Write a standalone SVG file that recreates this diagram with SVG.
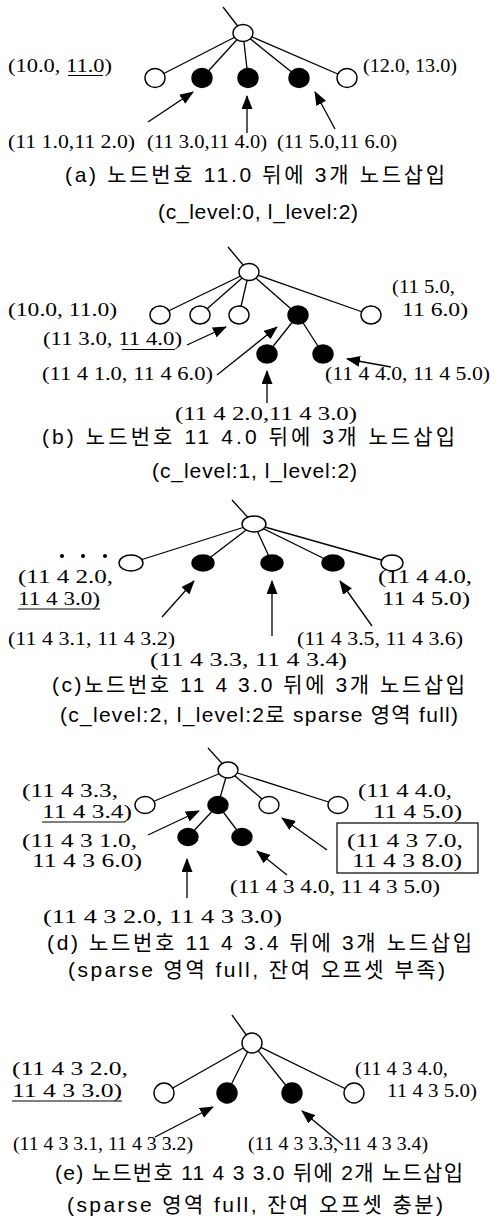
<svg xmlns="http://www.w3.org/2000/svg" width="501" height="1223" viewBox="0 0 501 1223">
  <defs>
    <marker id="head" markerUnits="userSpaceOnUse" markerWidth="14" markerHeight="11" refX="13" refY="5.5" orient="auto" viewBox="0 0 14 11">
      <path d="M0,0 L14,5.5 L0,11 z" fill="#000"/>
    </marker>
    <style>
      .edge { stroke: #000; stroke-width: 1.3; fill: none; }
      .arrow { stroke: #000; stroke-width: 1.3; fill: none; marker-end: url(#head); }
      .open { fill: #fff; stroke: #000; stroke-width: 1.4; }
      .full { fill: #000; stroke: #000; stroke-width: 1.4; }
      .ul { stroke: #000; stroke-width: 1; }
      .box { fill: none; stroke: #000; stroke-width: 1.2; }
      .lbl { font-family: "Liberation Serif", "Times New Roman", serif; font-size: 18.5px; fill: #000; }
      .cap { font-family: "Liberation Sans", "Noto Sans CJK KR", sans-serif; font-size: 21px; fill: #000; }
    </style>
  </defs>
  <rect width="501" height="1223" fill="#fff"/>

  <!-- ===== (a) ===== -->
  <g id="a-connectors">
    <line class="edge" x1="223" y1="7" x2="243" y2="33"/>
    <line class="edge" x1="243" y1="33" x2="155" y2="78"/>
    <line class="edge" x1="243" y1="33" x2="202" y2="78"/>
    <line class="edge" x1="243" y1="33" x2="248" y2="78"/>
    <line class="edge" x1="243" y1="33" x2="299" y2="78"/>
    <line class="edge" x1="243" y1="33" x2="347" y2="78"/>
    <line class="arrow" x1="148" y1="122" x2="193" y2="92"/>
    <line class="arrow" x1="247" y1="133" x2="247" y2="96"/>
    <line class="arrow" x1="335" y1="129" x2="315" y2="92"/>
  </g>
  <g id="a-root"><ellipse class="open" cx="243" cy="33" rx="10" ry="8.5"/></g>
  <g id="a-n1"><ellipse class="open" cx="155" cy="78" rx="10" ry="9.5"/></g>
  <g id="a-n2"><ellipse class="full" cx="202" cy="78" rx="10" ry="9.5"/></g>
  <g id="a-n3"><ellipse class="full" cx="248" cy="78" rx="10" ry="9.5"/></g>
  <g id="a-n4"><ellipse class="full" cx="299" cy="78" rx="10" ry="9.5"/></g>
  <g id="a-n5"><ellipse class="open" cx="347" cy="78" rx="10" ry="9.5"/></g>
  <g id="a-labels">
    <text class="lbl" x="8" y="72" textLength="104" lengthAdjust="spacingAndGlyphs">(10.0, 11.0)</text>
    <line class="ul" x1="68" y1="75.5" x2="103" y2="75.5"/>
    <text class="lbl" x="363" y="72" textLength="94" lengthAdjust="spacingAndGlyphs">(12.0, 13.0)</text>
    <text class="lbl" x="8" y="148" textLength="127" lengthAdjust="spacingAndGlyphs">(11 1.0,11 2.0)</text>
    <text class="lbl" x="147" y="148" textLength="120" lengthAdjust="spacingAndGlyphs">(11 3.0,11 4.0)</text>
    <text class="lbl" x="277" y="148" textLength="120" lengthAdjust="spacingAndGlyphs">(11 5.0,11 6.0)</text>
    <text class="cap" x="65" y="182" textLength="380">(a) 노드번호 11.0 뒤에 3개 노드삽입</text>
    <text class="cap" x="158" y="219" textLength="200">(c_level:0, l_level:2)</text>
  </g>

  <!-- ===== (b) ===== -->
  <g id="b-connectors">
    <line class="edge" x1="228" y1="247" x2="249" y2="272"/>
    <line class="edge" x1="249" y1="272" x2="160" y2="315"/>
    <line class="edge" x1="249" y1="272" x2="200" y2="315"/>
    <line class="edge" x1="249" y1="272" x2="239" y2="315"/>
    <line class="edge" x1="249" y1="272" x2="298" y2="315"/>
    <line class="edge" x1="249" y1="272" x2="371" y2="315"/>
    <line class="edge" x1="298" y1="315" x2="267" y2="354"/>
    <line class="edge" x1="298" y1="315" x2="323" y2="354"/>
    <line class="arrow" x1="187" y1="345" x2="226" y2="327"/>
    <line class="arrow" x1="217" y1="375" x2="277" y2="327"/>
    <line class="arrow" x1="391" y1="367" x2="347" y2="359"/>
    <line class="arrow" x1="267" y1="403" x2="267" y2="371"/>
  </g>
  <g id="b-root"><ellipse class="open" cx="249" cy="272" rx="10" ry="8.5"/></g>
  <g id="b-n1"><ellipse class="open" cx="160" cy="315" rx="10" ry="9"/></g>
  <g id="b-n2"><ellipse class="open" cx="200" cy="315" rx="10" ry="9"/></g>
  <g id="b-n3"><ellipse class="open" cx="239" cy="315" rx="10" ry="9"/></g>
  <g id="b-n4"><ellipse class="full" cx="298" cy="315" rx="10" ry="9"/></g>
  <g id="b-n5"><ellipse class="open" cx="371" cy="315" rx="10" ry="9"/></g>
  <g id="b-n6"><ellipse class="full" cx="267" cy="354" rx="10" ry="9"/></g>
  <g id="b-n7"><ellipse class="full" cx="323" cy="354" rx="10" ry="9"/></g>
  <g id="b-labels">
    <text class="lbl" x="8" y="316" textLength="109" lengthAdjust="spacingAndGlyphs">(10.0, 11.0)</text>
    <text class="lbl" x="392" y="293" textLength="63" lengthAdjust="spacingAndGlyphs">(11 5.0,</text>
    <text class="lbl" x="402" y="316" textLength="66" lengthAdjust="spacingAndGlyphs">11 6.0)</text>
    <text class="lbl" x="43" y="345" textLength="139" lengthAdjust="spacingAndGlyphs">(11 3.0, 11 4.0)</text>
    <line class="ul" x1="122" y1="349.5" x2="175" y2="349.5"/>
    <text class="lbl" x="42" y="380" textLength="171" lengthAdjust="spacingAndGlyphs">(11 4 1.0, 11 4 6.0)</text>
    <text class="lbl" x="325" y="380" textLength="165" lengthAdjust="spacingAndGlyphs">(11 4 4.0, 11 4 5.0)</text>
    <text class="lbl" x="175" y="420" textLength="182" lengthAdjust="spacingAndGlyphs">(11 4 2.0,11 4 3.0)</text>
    <text class="cap" x="42" y="444" textLength="413">(b) 노드번호 11 4.0 뒤에 3개 노드삽입</text>
    <text class="cap" x="152" y="478" textLength="205">(c_level:1, l_level:2)</text>
  </g>

  <!-- ===== (c) ===== -->
  <g id="c-connectors">
    <line class="edge" x1="232" y1="500" x2="254" y2="524"/>
    <line class="edge" x1="254" y1="524" x2="131" y2="563"/>
    <line class="edge" x1="254" y1="524" x2="203" y2="563"/>
    <line class="edge" x1="254" y1="524" x2="272" y2="563"/>
    <line class="edge" x1="254" y1="524" x2="333" y2="563"/>
    <line class="edge" x1="254" y1="524" x2="392" y2="563"/>
    <line class="arrow" x1="162" y1="617" x2="194" y2="581"/>
    <line class="arrow" x1="272" y1="636" x2="272" y2="581"/>
    <line class="arrow" x1="372" y1="626" x2="340" y2="581"/>
  </g>
  <g id="c-root"><ellipse class="open" cx="254" cy="524" rx="12" ry="8"/></g>
  <g id="c-n1"><ellipse class="open" cx="131" cy="563" rx="12" ry="8"/></g>
  <g id="c-n2"><ellipse class="full" cx="203" cy="563" rx="11" ry="8"/></g>
  <g id="c-n3"><ellipse class="full" cx="272" cy="563" rx="11" ry="8"/></g>
  <g id="c-n4"><ellipse class="full" cx="333" cy="563" rx="11" ry="8"/></g>
  <g id="c-n5"><ellipse class="open" cx="392" cy="563" rx="11" ry="8"/></g>
  <g id="c-ellipsis">
    <circle cx="62" cy="556" r="2"/>
    <circle cx="83" cy="556" r="2"/>
    <circle cx="105" cy="556" r="2"/>
  </g>
  <g id="c-labels">
    <text class="lbl" x="18" y="583" textLength="95" lengthAdjust="spacingAndGlyphs">(11 4 2.0,</text>
    <text class="lbl" x="18" y="605" textLength="82" lengthAdjust="spacingAndGlyphs">11 4 3.0)</text>
    <line class="ul" x1="18" y1="609" x2="100" y2="609"/>
    <text class="lbl" x="378" y="583" textLength="94" lengthAdjust="spacingAndGlyphs">(11 4 4.0,</text>
    <text class="lbl" x="382" y="605" textLength="88" lengthAdjust="spacingAndGlyphs">11 4 5.0)</text>
    <text class="lbl" x="8" y="645" textLength="167" lengthAdjust="spacingAndGlyphs">(11 4 3.1, 11 4 3.2)</text>
    <text class="lbl" x="297" y="645" textLength="166" lengthAdjust="spacingAndGlyphs">(11 4 3.5, 11 4 3.6)</text>
    <text class="lbl" x="150" y="666" textLength="197" lengthAdjust="spacingAndGlyphs">(11 4 3.3, 11 4 3.4)</text>
    <text class="cap" x="52" y="692" textLength="413">(c)노드번호 11 4 3.0 뒤에 3개 노드삽입</text>
    <text class="cap" x="60" y="722" textLength="398">(c_level:2, l_level:2로 sparse 영역 full)</text>
  </g>

  <!-- ===== (d) ===== -->
  <g id="d-connectors">
    <line class="edge" x1="208" y1="748" x2="228" y2="770"/>
    <line class="edge" x1="228" y1="770" x2="145" y2="805"/>
    <line class="edge" x1="228" y1="770" x2="218" y2="805"/>
    <line class="edge" x1="228" y1="770" x2="269" y2="805"/>
    <line class="edge" x1="228" y1="770" x2="338" y2="805"/>
    <line class="edge" x1="218" y1="805" x2="188" y2="837"/>
    <line class="edge" x1="218" y1="805" x2="242" y2="837"/>
    <line class="arrow" x1="148" y1="835" x2="199" y2="811"/>
    <line class="arrow" x1="327" y1="850" x2="282" y2="818"/>
    <line class="arrow" x1="287" y1="875" x2="257" y2="851"/>
    <line class="arrow" x1="187" y1="898" x2="187" y2="859"/>
  </g>
  <g id="d-root"><ellipse class="open" cx="228" cy="770" rx="10" ry="8"/></g>
  <g id="d-n1"><ellipse class="open" cx="145" cy="805" rx="10" ry="8.5"/></g>
  <g id="d-n2"><ellipse class="full" cx="218" cy="805" rx="10" ry="8.5"/></g>
  <g id="d-n3"><ellipse class="open" cx="269" cy="805" rx="10" ry="8.5"/></g>
  <g id="d-n4"><ellipse class="open" cx="338" cy="805" rx="10" ry="8.5"/></g>
  <g id="d-n5"><ellipse class="full" cx="188" cy="837" rx="10" ry="8.5"/></g>
  <g id="d-n6"><ellipse class="full" cx="242" cy="837" rx="10" ry="8.5"/></g>
  <g id="d-labels">
    <text class="lbl" x="22" y="797" textLength="96" lengthAdjust="spacingAndGlyphs">(11 4 3.3,</text>
    <text class="lbl" x="42" y="818" textLength="90" lengthAdjust="spacingAndGlyphs">11 4 3.4)</text>
    <line class="ul" x1="42" y1="822" x2="125" y2="822"/>
    <text class="lbl" x="358" y="797" textLength="94" lengthAdjust="spacingAndGlyphs">(11 4 4.0,</text>
    <text class="lbl" x="373" y="818" textLength="89" lengthAdjust="spacingAndGlyphs">11 4 5.0)</text>
    <text class="lbl" x="22" y="847" textLength="115" lengthAdjust="spacingAndGlyphs">(11 4 3 1.0,</text>
    <text class="lbl" x="32" y="867" textLength="110" lengthAdjust="spacingAndGlyphs">11 4 3 6.0)</text>
    <rect class="box" x="337" y="823" width="141" height="50"/>
    <text class="lbl" x="347" y="847" textLength="116" lengthAdjust="spacingAndGlyphs">(11 4 3 7.0,</text>
    <text class="lbl" x="352" y="867" textLength="110" lengthAdjust="spacingAndGlyphs">11 4 3 8.0)</text>
    <text class="lbl" x="230" y="893" textLength="210" lengthAdjust="spacingAndGlyphs">(11 4 3 4.0, 11 4 3 5.0)</text>
    <text class="lbl" x="43" y="923" textLength="239" lengthAdjust="spacingAndGlyphs">(11 4 3 2.0, 11 4 3 3.0)</text>
    <text class="cap" x="47" y="950" textLength="425">(d) 노드번호 11 4 3.4 뒤에 3개 노드삽입</text>
    <text class="cap" x="68" y="977" textLength="377">(sparse 영역 full, 잔여 오프셋 부족)</text>
  </g>

  <!-- ===== (e) ===== -->
  <g id="e-connectors">
    <line class="edge" x1="232" y1="1015" x2="252" y2="1043"/>
    <line class="edge" x1="252" y1="1043" x2="164" y2="1093"/>
    <line class="edge" x1="252" y1="1043" x2="227" y2="1093"/>
    <line class="edge" x1="252" y1="1043" x2="292" y2="1093"/>
    <line class="edge" x1="252" y1="1043" x2="354" y2="1093"/>
    <line class="arrow" x1="155" y1="1137" x2="213" y2="1107"/>
    <line class="arrow" x1="343" y1="1145" x2="302" y2="1111"/>
  </g>
  <g id="e-root"><ellipse class="open" cx="252" cy="1043" rx="10" ry="10"/></g>
  <g id="e-n1"><ellipse class="open" cx="164" cy="1093" rx="10" ry="10"/></g>
  <g id="e-n2"><ellipse class="full" cx="227" cy="1093" rx="10" ry="10"/></g>
  <g id="e-n3"><ellipse class="full" cx="292" cy="1093" rx="10" ry="10"/></g>
  <g id="e-n4"><ellipse class="open" cx="354" cy="1093" rx="10" ry="10"/></g>
  <g id="e-labels">
    <text class="lbl" x="12" y="1075" textLength="116" lengthAdjust="spacingAndGlyphs">(11 4 3 2.0,</text>
    <text class="lbl" x="12" y="1097" textLength="110" lengthAdjust="spacingAndGlyphs">11 4 3 3.0)</text>
    <line class="ul" x1="12" y1="1101" x2="122" y2="1101"/>
    <text class="lbl" x="355" y="1075" textLength="93" lengthAdjust="spacingAndGlyphs">(11 4 3 4.0,</text>
    <text class="lbl" x="387" y="1097" textLength="90" lengthAdjust="spacingAndGlyphs">11 4 3 5.0)</text>
    <text class="lbl" x="13" y="1150" textLength="180" lengthAdjust="spacingAndGlyphs">(11 4 3 3.1, 11 4 3 3.2)</text>
    <text class="lbl" x="248" y="1150" textLength="180" lengthAdjust="spacingAndGlyphs">(11 4 3 3.3, 11 4 3 3.4)</text>
    <text class="cap" x="55" y="1180" textLength="408">(e) 노드번호 11 4 3 3.0 뒤에 2개 노드삽입</text>
    <text class="cap" x="67" y="1212" textLength="376">(sparse 영역 full, 잔여 오프셋 충분)</text>
  </g>
</svg>
